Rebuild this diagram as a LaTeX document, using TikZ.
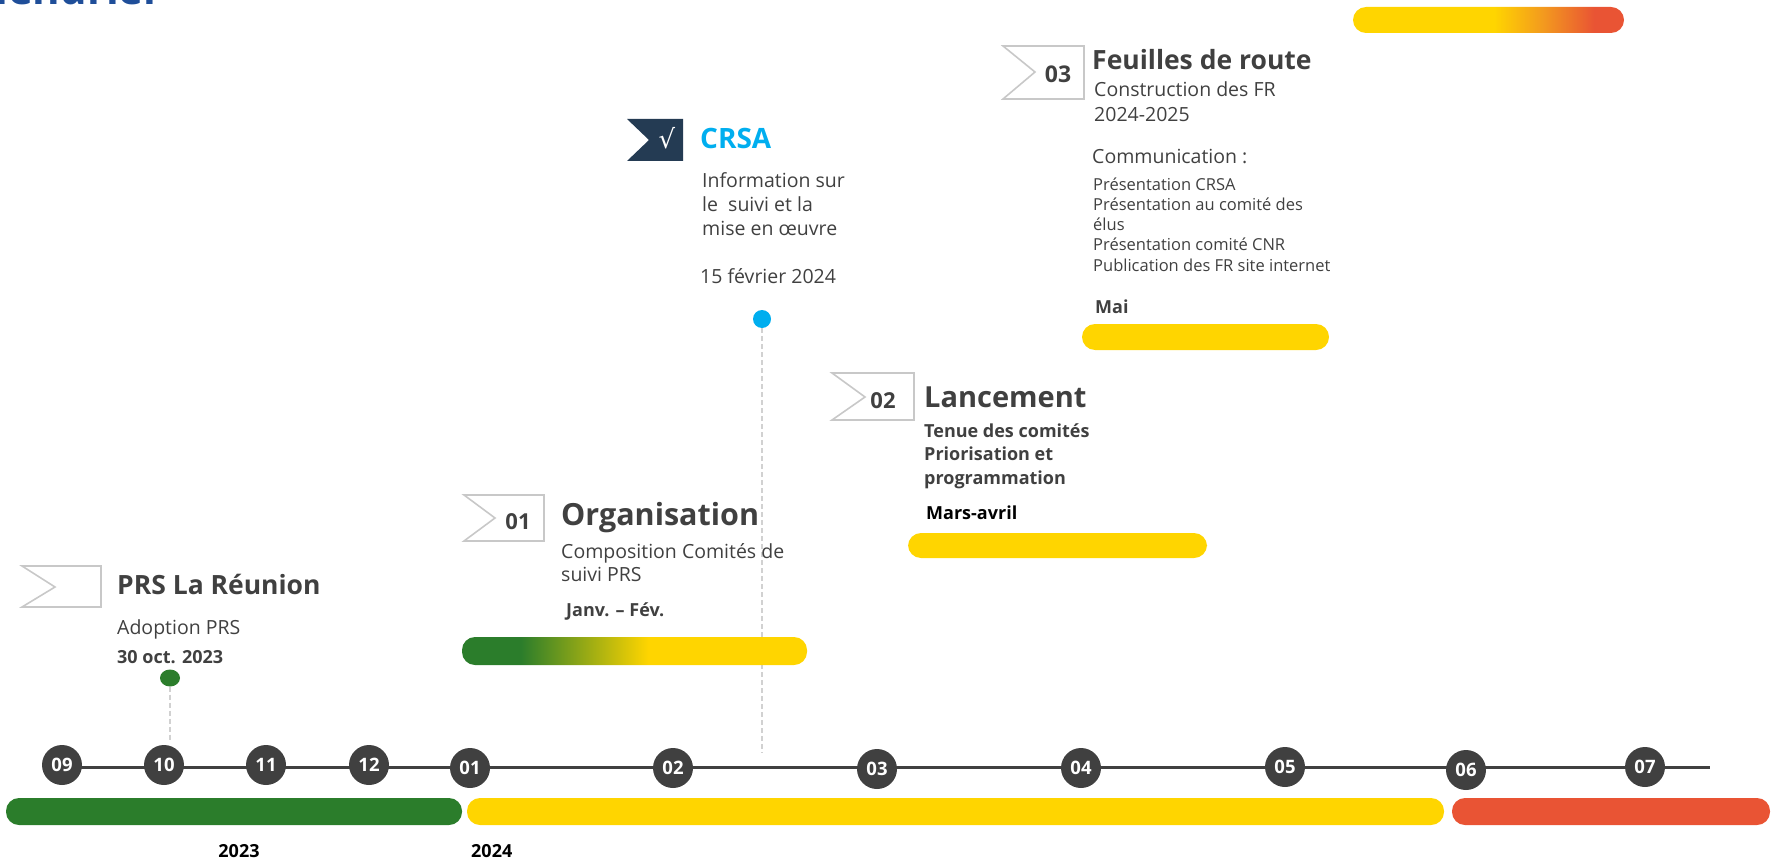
\documentclass[tikz,border=0pt]{standalone}
\usepackage{fontspec}
\setmainfont{Open Sans}
\newfontfamily\symfont{DejaVu Sans}
\usetikzlibrary{shapes.geometric}

\definecolor{prsgreen}{HTML}{2B7D2B}
\definecolor{prsyellow}{HTML}{FFD500}
\definecolor{prsred}{HTML}{E95434}
\definecolor{prsorange}{HTML}{F39A1E}
\definecolor{darkgrey}{HTML}{404040}
\definecolor{crsablue}{HTML}{00AEEF}
\definecolor{navy}{HTML}{243B53}
\definecolor{flaggrey}{HTML}{C8C8C8}
\definecolor{titleblue}{HTML}{1F4E99}

\pgfdeclarehorizontalshading{orgshade}{100bp}{color(0bp)=(prsgreen); color(33.5bp)=(prsgreen); color(52bp)=(prsyellow); color(100bp)=(prsyellow)}
\pgfdeclarehorizontalshading{frshade}{100bp}{color(0bp)=(prsyellow); color(51bp)=(prsyellow); color(60bp)=(prsorange); color(69.5bp)=(prsred); color(100bp)=(prsred)}

\begin{document}
\begin{tikzpicture}[x=1pt, y=-1pt,
      txt/.style={inner sep=0pt, anchor=base west, align=left, text=darkgrey,
        font=\fontsize{19.5}{24}\selectfont},
      head/.style={txt, font=\fontsize{28}{32}\selectfont\bfseries},
      when/.style={txt, font=\fontsize{18}{22}\selectfont\bfseries},
      num/.style={inner sep=0pt, anchor=base, text=darkgrey, font=\fontsize{22}{22}\selectfont\bfseries},
      flag/.style={draw=flaggrey, line width=1.6pt},
      bar/.style={rounded corners=13pt},
      month/.style={circle, fill=darkgrey, minimum size=40pt, inner sep=0pt, text=white,
        font=\fontsize{18.5}{18.5}\selectfont\bfseries},
      guide/.style={draw=black!18, line width=1.5pt, dash pattern=on 5pt off 3pt}]
      \useasboundingbox (0,0) rectangle (1771,861);
      \node[txt, anchor=base east, text=titleblue, font=\fontsize{42}{42}\selectfont\bfseries] (title) at (163,5) {Calendrier};

      % flags
      \draw[flag] (22,566) -- (101,566) -- (101,607) -- (22,607) -- (55,587) -- cycle;
      \draw[flag] (464,495) -- (544,495) -- (544,541) -- (464,541) -- (495,518) -- cycle;
      \draw[flag] (832,373) -- (914,373) -- (914,420) -- (832,420) -- (865,397) -- cycle;
      \draw[flag] (1003,46) -- (1084,46) -- (1084,99) -- (1003,99) -- (1035,72) -- cycle;
      \fill[navy] (627,119) -- (683,119) -- (683,161) -- (627,161) -- (649,140) -- cycle;
      \node[num] (n01) at (518,529) {01};
      \node[num] (n02) at (883,408) {02};
      \node[num, font=\fontsize{23}{23}\selectfont\bfseries] (n03) at (1058,83) {03};
      \node[text=white, inner sep=0pt, font=\symfont\fontsize{26}{26}\selectfont] (check) at (667,138) {√};

      % PRS La Reunion
      \node[head, font=\fontsize{26.5}{30}\selectfont\bfseries] (prs) at (117,594) {PRS La Réunion};
      \node[txt] (prstxt) at (117,634) {Adoption PRS};
      \node[when] (prsdate) at (117,663) {30 oct. 2023};
      \node[ellipse, fill=prsgreen, minimum width=20pt, minimum height=17pt, inner sep=0pt] (prsdot) at (170,678) {};
      \coordinate (prsend) at (170,742);
      \draw[guide] (prsdot) -- (prsend);

      % CRSA (multi-line nodes sit on their last baseline)
      \node[head, text=crsablue] (crsa) at (700,149) {CRSA};
      \node[txt] (crsatxt) at (702,235) {Information sur\\le\ \ suivi et la\\mise en œuvre};
      \node[txt] (crsadate) at (700,283) {15 février 2024};
      \node[circle, fill=crsablue, minimum size=18pt, inner sep=0pt] (crsadot) at (762,319) {};
      \coordinate (crsaend) at (762,753);
      \draw[guide] (crsadot) -- (crsaend);

      % 01 Organisation
      \node[head, font=\fontsize{30.5}{34}\selectfont\bfseries] (org) at (561,525) {Organisation};
      \node[txt, font=\fontsize{19.5}{23}\selectfont] (orgtxt) at (561,581) {Composition Comités de\\suivi PRS};
      \node[when] (orgdate) at (566,616) {Janv. – Fév.};
      \shade[shading=orgshade, bar] (462,637) rectangle (807,665);

      % 02 Lancement
      \node[head, font=\fontsize{29}{32}\selectfont\bfseries] (lanc) at (924,407) {Lancement};
      \node[txt, font=\fontsize{18}{23.5}\selectfont\bfseries] (lanctxt) at (924,484) {Tenue des comités\\Priorisation et\\programmation};
      \node[when, text=black] (lancdate) at (926,519) {Mars-avril};
      \fill[prsyellow, bar] (908,533) rectangle (1207,558);

      % 03 Feuilles de route
      \node[head, font=\fontsize{26.5}{30}\selectfont\bfseries] (fdr) at (1092,70) {Feuilles de route};
      \node[txt, font=\fontsize{19.5}{25}\selectfont] (fdrtxt) at (1094,122) {Construction des FR\\2024-2025};
      \node[txt] (comm) at (1092,164) {Communication :};
      \node[txt, font=\fontsize{16.5}{20.25}\selectfont] (commlist) at (1093,271) {Présentation CRSA\\Présentation au comité des\\élus\\Présentation comité CNR\\Publication des FR site internet};
      \node[when] (mai) at (1095,313) {Mai};
      \fill[prsyellow, bar] (1082,324) rectangle (1329,350);
      \shade[shading=frshade, bar] (1353,7) rectangle (1624,33);

      % timeline
      \coordinate (linestart) at (62,767);
      \coordinate (lineend) at (1710,767);
      \draw[darkgrey, line width=3pt] (linestart) -- (lineend);
      \foreach \m/\x/\y in {09/62/765, 10/164/765, 11/266/765, 12/369/765, 01/470/768, 02/673/768,
          03/877/769, 04/1081/768, 05/1285/767, 06/1466/770, 07/1645/767}
        \node[month] (m\m) at (\x,\y) {\m};
      \fill[prsgreen, bar] (6,798) rectangle (462,825);
      \fill[prsyellow, bar] (467,798) rectangle (1444,825);
      \fill[prsred, bar] (1452,798) rectangle (1770,825);
      \node[when, anchor=base, text=black] (y2023) at (239,857) {2023};
      \node[when, text=black] (y2024) at (471,857) {2024};
    \end{tikzpicture}
\end{document}
